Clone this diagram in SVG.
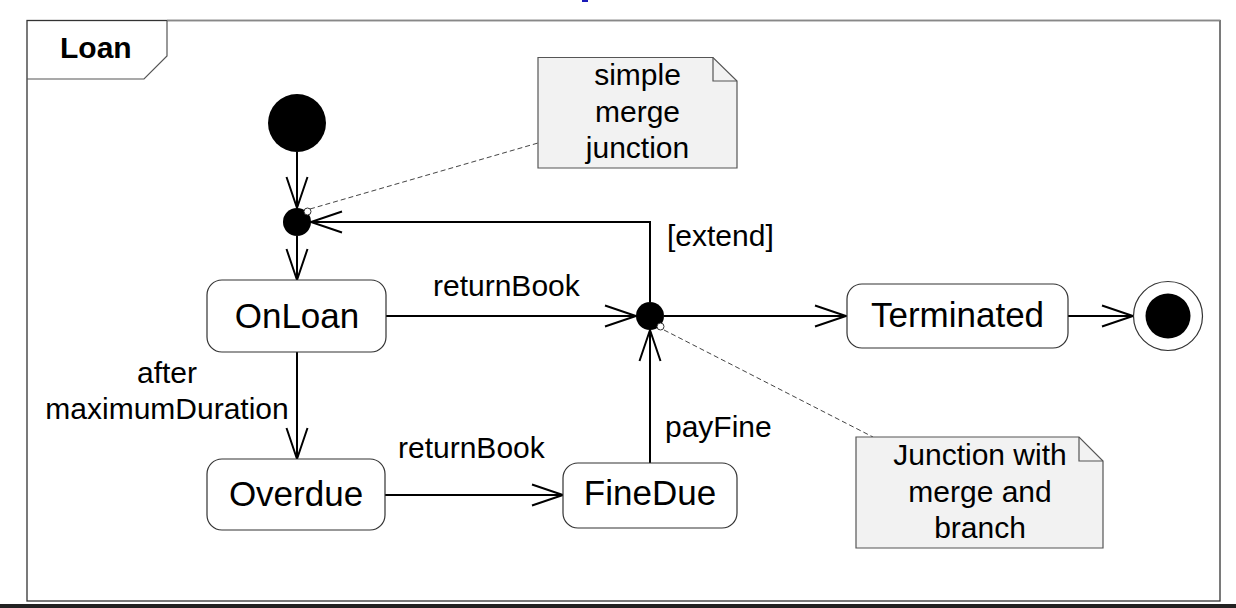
<svg xmlns="http://www.w3.org/2000/svg" width="1236" height="608" viewBox="0 0 1236 608">
<style>
text{font-family:"Liberation Sans",Arial,sans-serif;fill:#000}
.st{font-size:35px;text-anchor:middle}
.lb{font-size:30px}
.nt{font-size:30px;text-anchor:middle}
.state{fill:#fff;stroke:#333;stroke-width:1.2}
.note{fill:#f2f2f2;stroke:#555;stroke-width:1.2}
.conn{fill:none;stroke:#000;stroke-width:2}
.dash{fill:none;stroke:#444;stroke-width:1;stroke-dasharray:5 3}
.anc{fill:#fff;stroke:#333;stroke-width:1}
</style>
<defs>
<marker id="arr" markerUnits="userSpaceOnUse" markerWidth="40" markerHeight="30" refX="32" refY="12" orient="auto" overflow="visible">
<path d="M1 1.5 L32 12 L1 22.5" fill="none" stroke="#000" stroke-width="2"/>
</marker>
</defs>
<rect x="0" y="0" width="1236" height="608" fill="#fff"/>
<rect x="582" y="0" width="6" height="2" fill="#1a1ab8"/>
<g id="frame">
<rect x="27" y="20.5" width="1193" height="580.5" fill="none" stroke="#333" stroke-width="1.3"/>
<line x1="167" y1="20.5" x2="1220" y2="20.5" stroke="#888" stroke-width="1.5"/>
<path d="M27 79 L144 79 L167 56 L167 20.5" fill="none" stroke="#555" stroke-width="1.2"/>
<text x="60" y="58" style="font-size:30px;font-weight:bold">Loan</text>
</g>
<rect x="0" y="604" width="1236" height="4" fill="#222"/>
<g id="connectors">
<path class="conn" d="M297 152 L297 208" marker-end="url(#arr)"/>
<path class="conn" d="M297 236 L297 280" marker-end="url(#arr)"/>
<path class="conn" d="M386 316 L636 316" marker-end="url(#arr)"/>
<path class="conn" d="M664 316 L846 316" marker-end="url(#arr)"/>
<path class="conn" d="M1068 316 L1133 316" marker-end="url(#arr)"/>
<path class="conn" d="M297 352 L297 459" marker-end="url(#arr)"/>
<path class="conn" d="M385 495 L563 495" marker-end="url(#arr)"/>
<path class="conn" d="M650 463 L650 330" marker-end="url(#arr)"/>
<path class="conn" d="M650 302 L650 222 L311 222" marker-end="url(#arr)"/>
<path class="dash" d="M310 209 L538 143"/>
<path class="dash" d="M664 330 L873 437"/>
<text class="lb" x="433" y="296">returnBook</text>
<text class="lb" x="667" y="246">[extend]</text>
<text class="lb" x="167" y="383" text-anchor="middle">after</text>
<text class="lb" x="167" y="419" text-anchor="middle">maximumDuration</text>
<text class="lb" x="398" y="458">returnBook</text>
<text class="lb" x="665" y="437">payFine</text>
</g>
<g id="initial"><circle cx="297" cy="123" r="29" fill="#000"/></g>
<g id="junction1"><circle cx="297" cy="222" r="14" fill="#000"/><circle class="anc" cx="307.5" cy="211.5" r="3.5"/></g>
<g id="junction2"><circle cx="650" cy="316" r="14" fill="#000"/><circle class="anc" cx="660.5" cy="326.5" r="3.5"/></g>
<g id="OnLoan"><rect class="state" x="207" y="280" width="179" height="72" rx="15"/><text class="st" x="297" y="328">OnLoan</text></g>
<g id="Overdue"><rect class="state" x="207" y="459" width="178" height="71" rx="15"/><text class="st" x="296" y="506">Overdue</text></g>
<g id="FineDue"><rect class="state" x="563" y="463" width="174" height="65" rx="15"/><text class="st" x="650" y="505">FineDue</text></g>
<g id="Terminated"><rect class="state" x="847" y="284" width="221" height="64" rx="15"/><text class="st" x="957.5" y="327">Terminated</text></g>
<g id="final"><circle cx="1168" cy="316" r="34.5" fill="#fff" stroke="#333" stroke-width="1.2"/><circle cx="1168" cy="316" r="22.5" fill="#000"/></g>
<g id="note1">
<path class="note" d="M538 57.5 L713 57.5 L737 81 L737 168 L538 168 Z"/>
<path d="M713 57.5 L713 81 L737 81" fill="none" stroke="#555" stroke-width="1.2"/>
<text class="nt" x="637.5" y="85">simple</text>
<text class="nt" x="637.5" y="121.5">merge</text>
<text class="nt" x="637.5" y="158">junction</text>
</g>
<g id="note2">
<path class="note" d="M856 437 L1079 437 L1103 461 L1103 548 L856 548 Z"/>
<path d="M1079 437 L1079 461 L1103 461" fill="none" stroke="#555" stroke-width="1.2"/>
<text class="nt" x="980" y="465">Junction with</text>
<text class="nt" x="980" y="501.5">merge and</text>
<text class="nt" x="980" y="538">branch</text>
</g>
</svg>
